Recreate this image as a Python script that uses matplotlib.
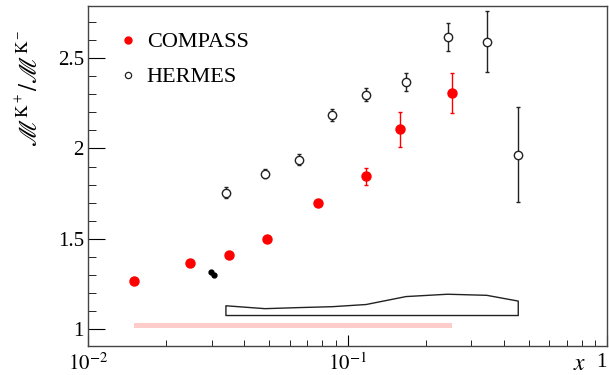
import matplotlib
matplotlib.use("Agg")
import matplotlib.pyplot as plt
from matplotlib.ticker import FixedLocator, FixedFormatter, NullFormatter, MultipleLocator
from matplotlib.lines import Line2D

plt.rcParams['font.family'] = ['Liberation Serif', 'DejaVu Serif']
plt.rcParams['mathtext.fontset'] = 'stix'

# COMPASS data
compass_x = [0.0151, 0.0248, 0.0348, 0.0489, 0.0771, 0.118, 0.160, 0.252]
compass_y = [1.264, 1.363, 1.411, 1.500, 1.700, 1.845, 2.106, 2.307]
compass_err = [0.0, 0.0, 0.0, 0.0, 0.0, 0.045, 0.095, 0.11]
compass_sys_low = 1.003
compass_sys_high = 1.03

# HERMES data
hermes_x = [0.0340, 0.0481, 0.0653, 0.0875, 0.118, 0.168, 0.243, 0.344, 0.455]
hermes_y = [1.756, 1.860, 1.938, 2.186, 2.298, 2.369, 2.620, 2.592, 1.966]
hermes_err = [0.03, 0.025, 0.03, 0.035, 0.035, 0.05, 0.078, 0.17, 0.265]
hermes_sys_top = [1.128, 1.112, 1.118, 1.123, 1.135, 1.179, 1.192, 1.186, 1.154]
hermes_sys_base = 1.074

# stray black marks
blob_x = [0.0299, 0.0306]
blob_y = [1.318, 1.298]

fig = plt.figure(figsize=(6.09, 3.75), dpi=100)
ax = fig.add_axes([88/609, 1-346/375, (607-88)/609, (346-6)/375])
ax.set_xscale('log')
ax.set_xlim(0.01, 1)
ax.set_ylim(0.905, 2.79)

# systematic bands
ax.fill_between(compass_x[:1] + compass_x[-1:], compass_sys_low, compass_sys_high,
                color='#ffcccc', lw=0)
ax.fill_between(hermes_x, hermes_sys_base, hermes_sys_top, facecolor='none',
                edgecolor='#222222', lw=1.0)

# data
ax.errorbar(compass_x, compass_y, yerr=compass_err, fmt='o', color='red', ms=6.5,
            elinewidth=1, capsize=1.5, capthick=1, mec='red', zorder=4)
ax.errorbar(hermes_x, hermes_y, yerr=hermes_err, fmt='o', color='#222222', mfc='white',
            mec='#222222', ms=6, mew=1, elinewidth=1, capsize=1.5, capthick=1, zorder=4)
ax.plot(blob_x, blob_y, 'o', color='black', ms=3.5, zorder=4)

# ticks
ax.xaxis.set_major_locator(FixedLocator([0.01, 0.1, 1]))
ax.xaxis.set_major_formatter(FixedFormatter([r'$10^{-2}$', r'$10^{-1}$', '1']))
ax.xaxis.set_minor_formatter(NullFormatter())
ax.yaxis.set_major_locator(FixedLocator([1, 1.5, 2, 2.5]))
ax.yaxis.set_major_formatter(FixedFormatter(['1', '1.5', '2', '2.5']))
ax.yaxis.set_minor_locator(MultipleLocator(0.1))
ax.tick_params(axis='both', which='both', direction='in', top=False, right=False,
               labelsize=15, colors='black')
ax.tick_params(axis='y', which='major', length=12, pad=3)
ax.tick_params(axis='y', which='minor', length=6)
ax.tick_params(axis='x', which='major', length=8, pad=5)
ax.tick_params(axis='x', which='minor', length=4)
for s in ax.spines.values():
    s.set_color('#444444')
    s.set_linewidth(1.0)
fig.canvas.draw()
ax.get_xticklabels()[-1].set_horizontalalignment('right')

ax.set_xlabel(r'$x$', fontsize=17, loc='right', labelpad=-2)
ax.xaxis.set_label_coords(0.96, -0.025)
ax.set_ylabel(r'$\mathscr{M}^{\mathrm{K}^+}/\mathscr{M}^{\mathrm{K}^-}$', fontsize=18,
              loc='top')
ax.yaxis.set_label_coords(-0.09, 0.93)

handles = [Line2D([], [], ls='none', marker='o', color='red', ms=5),
           Line2D([], [], ls='none', marker='o', mfc='white', mec='#222222', ms=4.5, mew=0.9)]
leg = ax.legend(handles, ['COMPASS', 'HERMES'], loc='upper left', frameon=False,
                fontsize=16, bbox_to_anchor=(0.047, 0.95), handlelength=0.6,
                handletextpad=0.55, labelspacing=0.65, borderaxespad=0)

fig.savefig('out.png', dpi=100)
